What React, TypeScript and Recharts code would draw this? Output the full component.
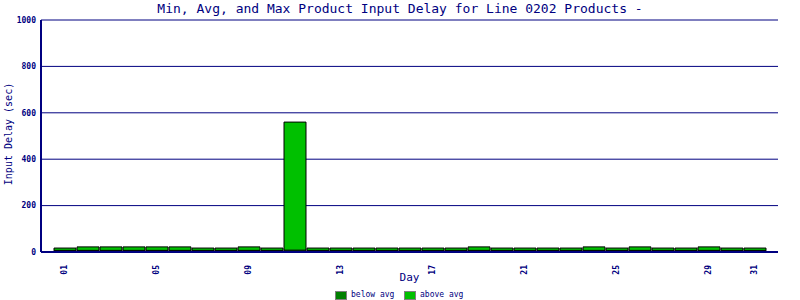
import { BarChart, Bar, XAxis, YAxis, CartesianGrid, Label } from 'recharts';

const days = ['01','02','03','04','05','06','07','08','09','10','11','12','13','14','15','16','17','18','19','20','21','22','23','24','25','26','27','28','29','30','31'];
const belowAvg = [7,7,7,7,7,7,7,7,7,7,8,7,7,7,7,7,7,7,7,7,7,7,7,7,7,7,7,7,7,7,7];
const aboveAvg = [10,15,15,15,15,15,10,10,15,10,552,10,10,10,10,10,10,10,15,10,10,10,10,15,10,15,10,10,15,10,10];
const shownTicks = ['01','05','09','13','17','21','25','29','31'];
const yTicks = [0,200,400,600,800,1000];

const NAVY = '#000080';
const MONO = '"DejaVu Sans Mono", monospace';

const data = days.map((d, i) => ({ day: d, below: belowAvg[i], above: aboveAvg[i] }));

const legendItems = [
  { name: 'below avg', color: '#008000', left: 335 },
  { name: 'above avg', color: '#00c000', left: 404 },
];

const DayTick = (props: any) => {
  const { x, y, payload } = props;
  if (!shownTicks.includes(payload.value)) return null;
  return (
    <text
      x={x}
      y={y + 5}
      transform={`rotate(-90, ${x}, ${y + 5})`}
      textAnchor="end"
      dominantBaseline="central"
      fill={NAVY}
      fontFamily={MONO}
      fontWeight="bold"
      fontSize={8}
    >
      {payload.value}
    </text>
  );
};

const App = () => {
  return (
    <div style={{ position: 'absolute', left: 0, top: 0, width: 800, height: 300, background: '#fff' }}>
      <div
        style={{
          position: 'absolute', top: 0, left: 0, width: 800, textAlign: 'center',
          fontFamily: MONO, fontSize: 13, color: NAVY, lineHeight: '18px',
        }}
      >
        Min, Avg, and Max Product Input Delay for Line 0202 Products -
      </div>
      <BarChart
        width={800}
        height={300}
        data={data}
        margin={{ top: 20, right: 22, left: 0, bottom: 0 }}
        barSize={22}
      >
        <CartesianGrid vertical={false} stroke={NAVY} strokeWidth={1} />
        <XAxis
          dataKey="day"
          interval={0}
          height={48}
          padding={{ left: 12, right: 12 }}
          axisLine={{ stroke: NAVY, strokeWidth: 2 }}
          tickLine={false}
          tick={<DayTick />}
        >
          <Label
            value="Day"
            position="insideBottom"
            offset={19}
            fill={NAVY}
            fontFamily={MONO}
            fontSize={11}
          />
        </XAxis>
        <YAxis
          width={41}
          domain={[0, 1000]}
          ticks={yTicks}
          interval={0}
          tickLine={false}
          tickSize={3}
          tickMargin={2}
          axisLine={{ stroke: NAVY, strokeWidth: 2 }}
          tick={{ fill: NAVY, fontFamily: MONO, fontWeight: 'bold', fontSize: 8 }}
        >
          <Label
            content={() => (
              <text
                x={8}
                y={134}
                transform="rotate(-90, 8, 134)"
                textAnchor="middle"
                dominantBaseline="central"
                fill={NAVY}
                fontFamily={MONO}
                fontSize={10}
              >
                Input Delay (sec)
              </text>
            )}
          />
        </YAxis>
        <YAxis
          yAxisId="right"
          orientation="right"
          width={0}
          tick={false}
          tickLine={false}
          axisLine={{ stroke: NAVY, strokeWidth: 1 }}
        />
        <Bar dataKey="below" name="below avg" stackId="a" fill="#008000" stroke="#000" strokeWidth={1} isAnimationActive={false} />
        <Bar dataKey="above" name="above avg" stackId="a" fill="#00c000" stroke="#000" strokeWidth={1} isAnimationActive={false} />
      </BarChart>
      {legendItems.map((item) => (
        <div
          key={item.name}
          style={{
            position: 'absolute', top: 290, left: item.left, height: 10, display: 'flex', alignItems: 'center', gap: 4,
            fontFamily: MONO, fontSize: 8, color: NAVY, lineHeight: '10px', whiteSpace: 'nowrap',
          }}
        >
          <span style={{ width: 10, height: 7, background: item.color, border: '1px solid #808080' }} />
          {item.name}
        </div>
      ))}
    </div>
  );
};

export default App;
